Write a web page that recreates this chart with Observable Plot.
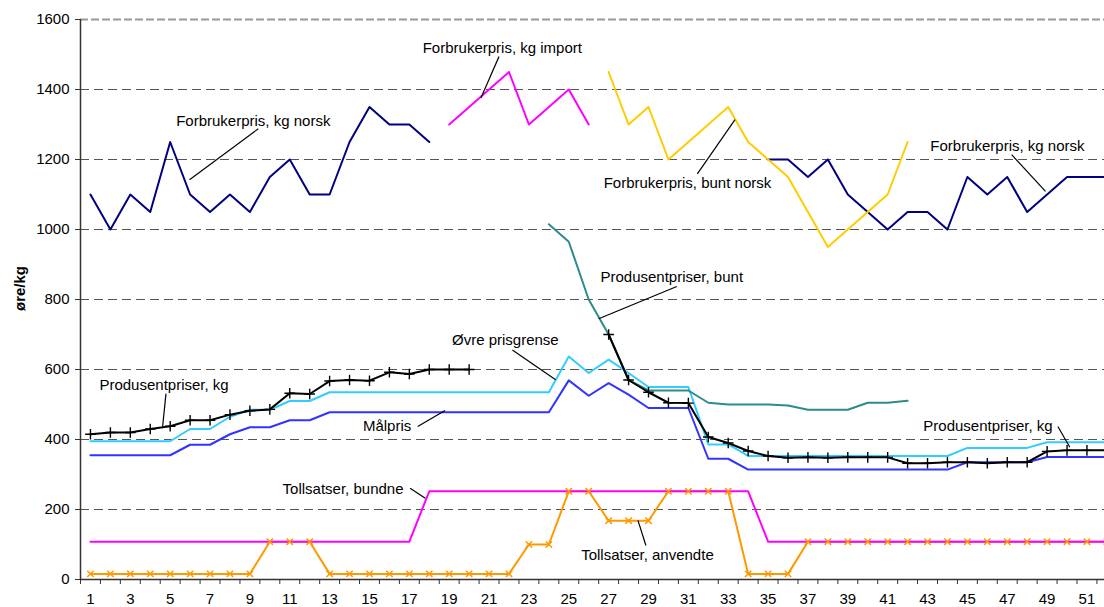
<!DOCTYPE html>
<html>
<head>
<meta charset="utf-8">
<script src="https://cdn.jsdelivr.net/npm/d3@7"></script>
<script src="https://cdn.jsdelivr.net/npm/@observablehq/plot@0.6"></script>
<style>
  html, body { margin: 0; padding: 0; background: #fff; overflow: hidden; }
  #chart { width: 1104px; height: 607px; }
</style>
</head>
<body>
<div id="chart"></div>
<script>
const weeks = [1,2,3,4,5,6,7,8,9,10,11,12,13,14,15,16,17,18,19,20,21,22,23,24,25,26,27,28,29,30,31,32,33,34,35,36,37,38,39,40,41,42,43,44,45,46,47,48,49,50,51,52];
const weekLabels = [1,3,5,7,9,11,13,15,17,19,21,23,25,27,29,31,33,35,37,39,41,43,45,47,49,51];
const yTicks = [0,200,400,600,800,1000,1200,1400,1600];
const _ = null;

const forbrukerKgNorsk = [1100,1000,1100,1050,1250,1100,1050,1100,1050,1150,1200,1100,1100,1250,1350,1300,1300,1250,
  _,_,_,_,_,_,_,_,_,_,_,_,_,_,_,_,
  1200,1200,1150,1200,1100,1050,1000,1050,1050,1000,1150,1100,1150,1050,1100,1150,1150,1150];
const forbrukerKgImport = [_,_,_,_,_,_,_,_,_,_,_,_,_,_,_,_,_,_,
  1300,1350,1400,1450,1300,1350,1400,1300,
  _,_,_,_,_,_,_,_,_,_,_,_,_,_,_,_,_,_,_,_,_,_,_,_,_,_];
const forbrukerBuntNorsk = [_,_,_,_,_,_,_,_,_,_,_,_,_,_,_,_,_,_,_,_,_,_,_,_,_,_,
  1450,1300,1350,1200,1250,1300,1350,1250,1200,1150,1050,950,1000,1050,1100,1250,
  _,_,_,_,_,_,_,_,_,_];
const produsentBunt = [_,_,_,_,_,_,_,_,_,_,_,_,_,_,_,_,_,_,_,_,_,_,_,
  1015,965,800,700,570,540,540,540,505,500,500,500,497,485,485,485,505,505,511,
  _,_,_,_,_,_,_,_,_,_];
const produsentKg = [415,420,420,430,438,455,455,471,482,486,532,530,567,570,568,592,587,600,600,600,
  _,_,_,_,_,_,
  700,570,535,505,504,407,390,367,353,348,349,348,349,349,349,332,332,335,335,332,335,335,366,369,369,369];
const ovrePrisgrense = [395,395,395,395,395,430,430,465,485,485,510,510,
  535,535,535,535,535,535,535,535,535,535,535,535,
  637,590,628,590,550,550,550,386,386,
  353,353,353,353,353,353,353,353,353,353,353,
  376,376,376,376,392,392,392,392];
const malpris = [355,355,355,355,355,385,385,415,435,435,455,455,
  478,478,478,478,478,478,478,478,478,478,478,478,
  569,525,561,528,490,490,490,345,345,
  314,314,314,314,314,314,314,314,314,314,314,
  335,335,335,335,350,350,350,350];
const tollBundne = [108,108,108,108,108,108,108,108,108,108,108,108,108,108,108,108,108,
  252,252,252,252,252,252,252,252,252,252,252,252,252,252,252,252,252,
  108,108,108,108,108,108,108,108,108,108,108,108,108,108,108,108,108,108];
const tollAnvendte = [16,16,16,16,16,16,16,16,16,108,108,108,
  16,16,16,16,16,16,16,16,16,16,100,100,252,252,168,168,168,252,252,252,252,
  16,16,16,108,108,108,108,108,108,108,108,108,108,108,108,108,108,108,108];

// annotations (label anchor in chart units: week, øre/kg) and leader lines
const annLabels = ["Forbrukerpris, kg norsk","Forbrukerpris, kg import","Forbrukerpris, bunt norsk","Forbrukerpris, kg norsk",
  "Produsentpriser, bunt","Øvre prisgrense","Produsentpriser, kg","Målpris","Tollsatser, bundne","Tollsatser, anvendte","Produsentpriser, kg"];
const annWeek  = [5.3, 17.67, 26.75, 43.14, 26.59, 19.14, 1.45, 14.67, 10.64, 25.62, 42.79];
const annValue = [1309, 1519, 1131, 1237, 864, 683, 556, 438, 257, 69, 437];
const leadWeek1  = [9.42, 21.5, 31.45, 47.22, 30.42, 22.17, 4.79, 17.42, 17.04, 28.87, 49.54];
const leadValue1 = [1288, 1494, 1159, 1214, 837, 656, 531, 437, 261, 97, 437];
const leadWeek2  = [5.97, 20.59, 33.34, 48.92, 26.5, 24.34, 4.62, 18.79, 17.8, 28.47, 50.14];
const leadValue2 = [1142, 1376, 1314, 1109, 745, 571, 437, 483, 232, 169, 378];

const colors = {
  navy: "#000080", magenta: "#FF00FF", gold: "#FFCC00", teal: "#2E8B8B",
  black: "#000000", cyan: "#33CCFF", blue: "#3333FF", orange: "#FF9900"
};

const line = (ys, stroke, extra = {}) =>
  Plot.line(weeks, {x: d => d, y: ys, stroke, strokeWidth: 2, ...extra});

const chart = Plot.plot({
  width: 1104,
  height: 607,
  marginLeft: 80,
  marginRight: 0,
  marginTop: 19,
  marginBottom: 28,
  style: {fontFamily: "'Liberation Sans', Arial, sans-serif", fontSize: "15px", background: "#fff", color: "#000"},
  x: {domain: [0.5, 51.88], label: null},
  y: {domain: [0, 1600], label: null},
  marks: [
    Plot.ruleY(yTicks.filter(v => v > 0 && v < 1600), {stroke: "#555", strokeWidth: 1.2, strokeDasharray: "9,5"}),
    Plot.ruleY([1600], {stroke: "#999", strokeWidth: 2, strokeDasharray: "8,3"}),
    Plot.axisY({ticks: yTicks, tickSize: 5, tickPadding: 6, label: null, stroke: "#333", tickFormat: d => String(d), fontSize: 15}),
    Plot.axisX({ticks: weekLabels, tickSize: 0, tickPadding: 14, label: null, tickFormat: d => String(d), fontSize: 15}),
    Plot.axisX({ticks: d3.range(0.5, 52, 1), tickSize: 5, label: null, tickFormat: () => "", stroke: "#333"}),
    Plot.ruleX([0.5], {stroke: "#333", strokeWidth: 1.5}),
    Plot.ruleY([0], {stroke: "#333", strokeWidth: 1.5}),
    line(forbrukerKgNorsk, colors.navy),
    line(forbrukerKgImport, colors.magenta),
    line(forbrukerBuntNorsk, colors.gold),
    line(ovrePrisgrense, colors.cyan),
    line(malpris, colors.blue),
    line(produsentBunt, colors.teal),
    line(produsentKg, colors.black),
    Plot.dot(weeks, {x: d => d, y: produsentKg, symbol: "plus", r: 3.5, stroke: colors.black, strokeWidth: 1.4}),
    line(tollAnvendte, colors.orange),
    line(tollBundne, colors.magenta),
    Plot.dot(weeks, {x: d => d, y: tollAnvendte, symbol: "times", r: 3, stroke: colors.orange, strokeWidth: 1.5}),
    Plot.link(annLabels, {x1: leadWeek1, y1: leadValue1, x2: leadWeek2, y2: leadValue2, stroke: "#000", strokeWidth: 1.2}),
    Plot.text(annLabels, {x: annWeek, y: annValue, text: d => d, textAnchor: "start", lineAnchor: "middle", fill: "#000", fontSize: 15}),
    Plot.text(["øre/kg"], {frameAnchor: "left", text: d => d, rotate: -90, dx: -60, dy: -11, textAnchor: "middle", fontWeight: "bold", fontSize: 15, fill: "#000"})
  ]
});
document.getElementById("chart").appendChild(chart);
</script>
</body>
</html>
